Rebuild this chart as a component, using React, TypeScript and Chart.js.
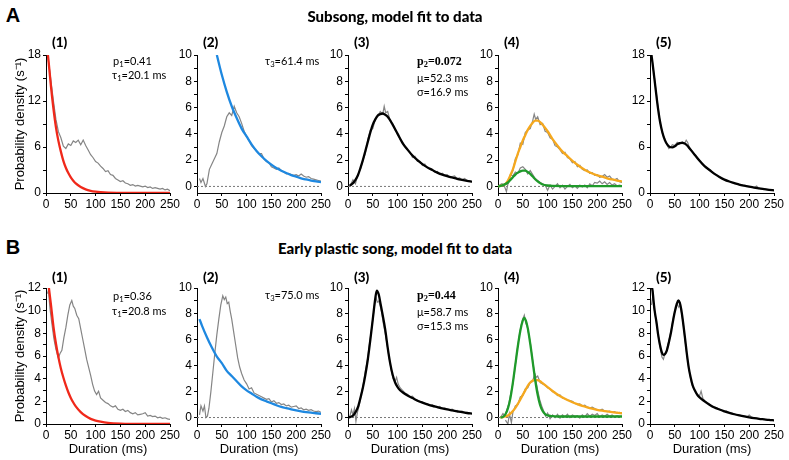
import React, { useEffect, useRef } from 'react';
import { Chart, registerables } from 'chart.js';
Chart.register(...registerables);

type Pts = [number, number][];

// ---------- tick values ----------
const X_TICKS = [0, 50, 100, 150, 200, 250];
const Y18_TICKS = [0, 3, 6, 9, 12, 15, 18];
const Y18_LABELS = [0, 6, 12, 18];
const Y10_TICKS = [0, 1, 2, 3, 4, 5, 6, 7, 8, 9, 10];
const Y10_LABELS = [0, 2, 4, 6, 8, 10];
const Y12_TICKS = [0, 1, 2, 3, 4, 5, 6, 7, 8, 9, 10, 11, 12];
const Y12_LABELS = [0, 2, 4, 6, 8, 10, 12];

// ---------- Row A: Subsong ----------
const A1_gray: Pts = [[4,17.6],[7,16.2],[10,14.6],[15,12],[20,9.6],[25,8],[30,7.2],[35,6.1],[40,5.8],[45,6.4],[50,6.2],[55,6.8],[60,6.6],[65,6.9],[70,6.3],[75,6.9],[80,6.2],[85,5.6],[90,5.0],[95,4.6],[100,4.1],[105,3.9],[110,3.5],[115,3.2],[120,2.8],[125,2.9],[130,2.4],[135,2.3],[140,1.9],[145,1.7],[150,1.5],[155,1.6],[160,1.3],[165,1.2],[170,1.0],[175,1.1],[180,0.9],[185,1.0],[190,0.9],[195,0.8],[200,0.9],[205,0.7],[210,0.8],[215,0.6],[220,0.7],[225,0.6],[230,0.5],[235,0.6],[240,0.4],[245,0.5],[250,0.3]];
const A1_fit: Pts = [[3,18.5],[5,17.3],[10,13.9],[15,11.0],[20,8.6],[25,6.8],[30,5.4],[35,4.2],[40,3.3],[45,2.6],[50,2.05],[55,1.6],[60,1.25],[70,0.77],[80,0.47],[90,0.29],[100,0.18],[110,0.11],[125,0.05],[150,0.02],[175,0],[200,0],[250,0]];

const A2_gray: Pts = [[5,0.6],[8,0.3],[12,0.6],[17,0.0],[20,0.2],[25,1.3],[30,1.7],[35,2.1],[40,2.5],[45,3.4],[50,4.1],[55,4.6],[60,5.3],[65,5.6],[70,5.4],[75,6.1],[80,5.6],[85,5.3],[90,4.8],[95,4.2],[100,3.8],[105,3.5],[110,3.1],[115,2.9],[120,2.7],[125,2.5],[130,2.5],[135,2.1],[140,1.9],[145,1.8],[150,1.5],[155,1.4],[160,1.3],[165,1.4],[170,1.2],[175,1.1],[180,0.95],[185,1.0],[190,0.9],[195,0.85],[200,0.9],[205,0.8],[210,0.95],[215,0.8],[220,0.7],[225,0.75],[230,0.6],[235,0.55],[240,0.5],[245,0.45],[250,0.4]];
const A2_fit: Pts = [[40,10],[50,8.5],[60,7.2],[70,6.1],[80,5.2],[90,4.4],[100,3.8],[110,3.2],[120,2.7],[130,2.3],[140,1.95],[150,1.66],[160,1.41],[170,1.2],[180,1.02],[190,0.86],[200,0.74],[210,0.62],[220,0.53],[230,0.45],[240,0.38],[250,0.33]];

const A3_gray: Pts = [[5,0.1],[10,0.5],[15,0.2],[20,0.9],[25,1.3],[30,2.0],[35,2.5],[40,3.6],[45,4.3],[50,4.4],[55,5.1],[60,5.3],[65,5.7],[70,5.5],[73,6.1],[76,5.6],[80,5.7],[85,5.0],[90,4.8],[95,4.3],[100,4.0],[105,3.6],[110,3.4],[115,3.0],[120,2.8],[125,2.6],[130,2.2],[135,2.3],[140,1.9],[145,1.9],[150,1.6],[155,1.7],[160,1.4],[165,1.3],[170,1.3],[175,1.1],[180,1.15],[185,0.9],[190,1.0],[195,0.85],[200,0.9],[205,0.7],[210,0.75],[215,0.8],[220,0.6],[225,0.65],[230,0.5],[235,0.6],[240,0.45],[245,0.4],[250,0.35]];
const A3_fit: Pts = [[3,0.05],[5,0.1],[10,0.25],[15,0.5],[20,0.85],[25,1.4],[30,2.0],[35,2.7],[40,3.4],[45,4.1],[50,4.7],[55,5.1],[60,5.4],[65,5.5],[70,5.55],[75,5.45],[80,5.3],[90,4.7],[100,4.0],[110,3.3],[120,2.8],[130,2.35],[140,2.0],[150,1.7],[160,1.45],[170,1.25],[180,1.05],[190,0.9],[200,0.78],[210,0.68],[220,0.58],[230,0.5],[240,0.43],[250,0.37]];

const A4_grayWide: Pts = [[3,0.1],[8,0.2],[12,0.1],[17,-0.4],[20,0.2],[25,0.8],[30,1.2],[35,2.1],[40,2.4],[45,3.3],[50,3.2],[55,4.1],[60,4.3],[65,4.4],[70,5.0],[73,5.5],[76,5.1],[80,5.3],[85,4.7],[90,4.8],[95,4.2],[100,4.1],[105,3.7],[110,3.6],[115,3.1],[120,3.0],[125,2.8],[130,2.5],[135,2.6],[140,2.2],[145,2.1],[150,1.8],[155,1.9],[160,1.5],[165,1.6],[170,1.3],[175,1.2],[180,1.25],[185,1.0],[190,1.05],[195,0.85],[200,0.9],[205,0.7],[210,0.75],[215,0.9],[220,0.7],[225,0.8],[230,0.55],[235,0.5],[240,0.6],[245,0.35],[250,0.3]];
const A4_grayNarrow: Pts = [[20,0.2],[25,0.9],[30,0.8],[35,1.1],[40,1.0],[45,1.4],[50,1.5],[55,1.3],[60,0.95],[65,1.2],[70,0.9],[75,0.6],[80,0.45],[85,0.3],[90,0.2],[95,0.1],[100,-0.3],[105,0.1],[110,-0.2],[115,0.0],[120,0.2],[125,-0.1],[130,0.1],[135,-0.2],[140,0.0],[145,0.15],[150,-0.1],[155,0.05],[160,-0.15],[165,0.1],[170,-0.05],[175,0.1],[180,-0.1],[185,0.2],[190,0.05],[195,0.3],[200,0.25],[205,0.4],[210,0.2],[215,0.35],[220,0.15],[225,0.3],[230,0.1],[235,0.2],[240,0.05],[245,0.1],[250,0.05]];
const A4_fitWide: Pts = [[0,0],[5,0.05],[10,0.1],[15,0.2],[20,0.45],[25,0.85],[30,1.3],[35,1.9],[40,2.5],[45,3.0],[50,3.5],[55,3.9],[60,4.3],[65,4.6],[70,4.85],[75,5.0],[80,5.0],[85,4.9],[90,4.7],[100,4.2],[110,3.6],[120,3.1],[130,2.65],[140,2.3],[150,1.95],[160,1.65],[170,1.38],[180,1.15],[190,0.98],[200,0.84],[210,0.74],[220,0.62],[230,0.53],[240,0.45],[250,0.38]];
const A4_fitNarrow: Pts = [[0,0],[10,0.1],[20,0.3],[25,0.5],[30,0.7],[35,0.9],[40,1.05],[45,1.15],[50,1.2],[55,1.2],[60,1.1],[65,0.95],[70,0.75],[75,0.55],[80,0.38],[85,0.25],[90,0.15],[100,0.07],[110,0.04],[130,0.03],[250,0.03]];

const A5_gray: Pts = [[3,17.5],[5,17.0],[10,14.5],[15,11.8],[20,9.3],[25,7.8],[30,7.0],[35,6.2],[38,5.8],[42,6.0],[45,6.3],[50,6.2],[55,6.6],[60,6.4],[65,6.7],[70,6.5],[73,6.9],[76,6.6],[80,5.8],[85,5.5],[90,5.0],[95,4.6],[100,4.2],[105,3.8],[110,3.5],[115,3.2],[120,3.0],[125,2.8],[130,2.5],[135,2.3],[140,2.1],[145,1.9],[150,1.75],[155,1.6],[160,1.5],[165,1.4],[170,1.3],[175,1.2],[180,1.1],[185,1.05],[190,0.95],[195,0.9],[200,0.82],[205,0.75],[210,0.7],[215,0.9],[220,0.6],[225,0.55],[230,0.5],[235,0.45],[240,0.42],[245,0.38],[250,0.35]];
const A5_fit: Pts = [[3,18],[5,17],[10,14.3],[15,11.6],[20,9.4],[25,7.9],[30,6.9],[35,6.3],[40,6.0],[45,5.95],[50,6.1],[55,6.35],[60,6.5],[65,6.55],[70,6.45],[75,6.2],[80,5.8],[90,5.0],[100,4.2],[110,3.5],[120,3.0],[130,2.5],[140,2.1],[150,1.75],[160,1.5],[170,1.3],[180,1.1],[190,0.95],[200,0.82],[210,0.7],[220,0.6],[230,0.5],[240,0.42],[250,0.35]];

// ---------- Row B: Early plastic song ----------
const B1_gray: Pts = [[3,11.5],[5,11.8],[8,10.2],[12,8.8],[16,7.5],[20,6.6],[25,5.8],[28,6.2],[32,6.5],[36,7.6],[40,8.5],[44,9.6],[48,10.5],[52,10.9],[55,10.4],[58,10.2],[62,9.6],[66,9.3],[70,8.4],[74,7.5],[78,6.6],[82,5.7],[86,5.0],[90,4.3],[94,3.5],[98,2.9],[102,2.6],[106,2.9],[110,2.3],[115,2.1],[120,1.9],[125,1.8],[130,1.6],[135,1.5],[140,1.6],[145,1.3],[150,1.2],[155,1.3],[160,1.1],[165,1.2],[170,1.0],[175,0.9],[180,1.0],[185,0.8],[190,0.85],[195,0.9],[200,1.0],[205,0.7],[210,0.75],[215,0.65],[220,0.7],[225,0.55],[230,0.6],[235,0.5],[240,0.55],[245,0.45],[250,0.4]];
const B1_fit: Pts = [[3,13],[5,12.3],[10,10.5],[15,8.6],[20,7.1],[25,5.9],[30,4.9],[35,4.1],[40,3.4],[45,2.8],[50,2.3],[55,1.9],[60,1.55],[70,1.05],[80,0.7],[90,0.45],[100,0.3],[110,0.2],[125,0.1],[150,0.03],[175,0.01],[250,0]];

const B2_gray: Pts = [[5,0.2],[8,0.9],[12,0.5],[15,0.9],[18,0.0],[21,0.1],[24,0.7],[28,2.0],[32,3.5],[36,5.0],[40,6.4],[44,7.6],[48,8.7],[52,9.4],[55,9.1],[58,9.3],[61,8.8],[64,8.9],[67,8.2],[70,7.6],[74,6.6],[78,5.6],[82,4.6],[86,3.9],[90,3.4],[95,2.9],[100,2.6],[105,2.2],[110,2.3],[115,1.9],[120,1.8],[125,1.7],[130,1.6],[135,1.5],[140,1.4],[145,1.45],[150,1.2],[155,1.3],[160,1.1],[165,1.15],[170,1.0],[175,1.05],[180,0.9],[185,0.95],[190,0.8],[195,0.85],[200,0.9],[205,0.7],[210,0.75],[215,0.6],[220,0.65],[225,0.55],[230,0.6],[235,0.5],[240,0.45],[245,0.5],[250,0.4]];
const B2_fit: Pts = [[5,7.6],[10,7.1],[20,6.2],[30,5.4],[40,4.7],[50,4.2],[60,3.6],[70,3.2],[80,2.8],[90,2.4],[100,2.1],[110,1.85],[120,1.6],[130,1.4],[140,1.25],[150,1.1],[160,0.95],[170,0.82],[180,0.72],[190,0.63],[200,0.55],[210,0.48],[220,0.42],[230,0.37],[240,0.33],[250,0.29]];

const B3_gray: Pts = [[3,0.0],[7,0.6],[10,0.2],[13,0.7],[16,-0.3],[19,0.4],[23,1.0],[27,1.9],[31,2.6],[35,3.6],[39,4.4],[43,5.6],[47,6.7],[51,7.9],[54,8.8],[57,9.2],[59,8.9],[62,9.0],[65,8.6],[68,8.1],[71,7.3],[75,6.5],[79,5.6],[83,4.6],[87,3.7],[91,3.0],[95,2.8],[98,3.1],[101,2.6],[105,2.3],[110,2.1],[115,1.9],[120,1.8],[125,1.6],[130,1.65],[135,1.4],[140,1.35],[145,1.25],[150,1.2],[155,1.1],[160,1.05],[165,0.95],[170,1.0],[175,0.85],[180,0.8],[185,0.85],[190,0.7],[195,0.75],[200,0.65],[205,0.6],[210,0.65],[215,0.5],[220,0.55],[225,0.45],[230,0.5],[235,0.4],[240,0.38],[245,0.35],[250,0.3]];
const B3_fit: Pts = [[0,0],[5,0.05],[10,0.15],[15,0.4],[20,0.8],[25,1.5],[30,2.3],[35,3.3],[40,4.5],[45,6.0],[50,7.6],[55,9.2],[58,9.8],[62,9.5],[66,8.7],[70,7.9],[75,6.8],[80,5.4],[85,4.2],[90,3.3],[95,2.7],[100,2.35],[105,2.1],[110,1.95],[120,1.7],[130,1.5],[140,1.3],[150,1.15],[160,1.02],[170,0.9],[180,0.8],[190,0.7],[200,0.62],[210,0.55],[220,0.48],[230,0.41],[240,0.35],[250,0.3]];

const B4_grayNarrow: Pts = [[5,0.0],[10,0.3],[14,0.1],[18,0.6],[22,1.1],[26,1.9],[30,2.6],[34,3.8],[38,5.0],[42,6.1],[46,7.0],[50,7.6],[53,7.9],[56,7.3],[59,7.0],[62,6.4],[65,5.8],[68,4.9],[72,3.8],[76,2.9],[80,2.1],[84,1.4],[88,0.9],[92,0.5],[96,0.1],[100,0.35],[105,-0.1],[110,0.2],[115,0.0],[120,0.25],[125,-0.05],[130,0.2],[135,0.05],[140,0.25],[145,0.0],[150,0.2],[155,0.1],[160,0.15],[165,-0.05],[170,0.2],[175,0.05],[180,0.3],[185,0.1],[190,0.25],[195,0.15],[200,0.3],[205,0.05],[210,0.2],[215,0.1],[220,0.25],[225,0.1],[230,0.2],[235,0.05],[240,0.15],[245,0.1],[250,0.1]];
const B4_grayWide: Pts = [[15,-0.2],[20,-0.5],[23,0.3],[27,-0.4],[30,0.4],[35,0.9],[40,1.0],[45,1.6],[50,1.7],[55,2.2],[60,2.3],[65,2.7],[70,2.8],[74,3.4],[77,3.1],[80,3.2],[85,2.7],[90,2.6],[95,2.5],[100,2.3],[105,2.2],[110,2.0],[115,1.95],[120,1.7],[125,1.75],[130,1.5],[135,1.45],[140,1.35],[145,1.3],[150,1.25],[155,1.1],[160,1.0],[165,1.05],[170,0.9],[175,0.95],[180,0.8],[185,0.75],[190,0.8],[195,0.7],[200,0.6],[205,0.55],[210,0.65],[215,0.5],[220,0.45],[225,0.5],[230,0.4],[235,0.45],[240,0.35],[245,0.4],[250,0.3]];
const B4_fitNarrow: Pts = [[5,0],[10,0.05],[15,0.25],[20,0.7],[25,1.5],[30,2.7],[35,4.1],[40,5.5],[45,6.7],[50,7.5],[53,7.7],[56,7.5],[60,6.9],[65,5.7],[70,4.3],[75,2.9],[80,1.75],[85,0.95],[90,0.5],[95,0.27],[100,0.16],[110,0.1],[120,0.08],[250,0.08]];
const B4_fitWide: Pts = [[5,0],[10,0.03],[15,0.08],[20,0.15],[25,0.3],[30,0.5],[35,0.75],[40,1.05],[45,1.4],[50,1.75],[55,2.1],[60,2.45],[65,2.7],[70,2.85],[75,2.9],[80,2.88],[85,2.8],[90,2.65],[100,2.35],[110,2.05],[120,1.78],[130,1.55],[140,1.35],[150,1.18],[160,1.03],[170,0.9],[180,0.79],[190,0.69],[200,0.6],[210,0.53],[220,0.47],[230,0.42],[240,0.37],[250,0.33]];

const B5_gray: Pts = [[3,10.5],[6,11.4],[9,10.0],[12,9.2],[15,8.3],[18,7.4],[21,6.6],[24,5.9],[27,5.7],[30,6.2],[33,6.3],[36,7.0],[40,7.7],[44,8.6],[48,9.6],[52,10.2],[55,10.6],[58,10.3],[61,10.5],[64,9.7],[67,8.9],[70,7.6],[74,6.2],[78,5.0],[82,4.0],[86,3.3],[90,3.0],[95,2.6],[100,2.5],[103,2.9],[107,2.2],[112,2.0],[118,1.8],[124,1.6],[130,1.5],[136,1.4],[142,1.25],[148,1.1],[154,1.15],[160,1.0],[166,0.95],[172,0.85],[178,0.8],[184,0.75],[190,0.7],[196,0.65],[200,0.8],[205,0.6],[210,0.55],[216,0.5],[222,0.45],[228,0.42],[234,0.38],[240,0.35],[245,0.33],[250,0.3]];
const B5_fit: Pts = [[3,12.2],[5,11.8],[8,10.5],[10,9.8],[13,9.0],[16,8.0],[20,7.0],[24,6.3],[27,6.1],[30,6.15],[34,6.5],[38,7.2],[42,8.0],[46,9.0],[50,9.9],[54,10.6],[57,10.9],[60,10.7],[63,10.1],[66,9.2],[70,7.8],[74,6.3],[78,5.0],[82,4.1],[86,3.4],[90,3.0],[95,2.6],[100,2.35],[110,2.0],[120,1.7],[130,1.45],[140,1.28],[150,1.12],[160,0.98],[170,0.86],[180,0.76],[190,0.67],[200,0.59],[210,0.52],[220,0.46],[230,0.41],[240,0.36],[250,0.32]];

// ---------- colours ----------
const GRAY = '#858585';
const RED = '#f0281a';
const BLUE = '#1e88e0';
const BLACK = '#000000';
const ORANGE = '#f5a81e';
const GREEN = '#1f9a2a';

const TICK_FONT = { family: "'Liberation Sans', Arial, sans-serif", size: 12 };
const TITLE_FONT = { family: "'Liberation Sans', Arial, sans-serif", size: 13 };

type Series = { data: Pts; color: string; width: number; smooth: boolean };
type PanelSpec = {
  col: number;
  row: number;
  ymin: number;
  ymax: number;
  yTicks: number[];
  yLabels: number[];
  zero: boolean;
  series: Series[];
};

const PLOT_LEFT = [46, 197, 348, 498, 650];
const PLOT_W = 124;
const ROW_TOP = [55, 288];
const ROW_H = [138, 136];
const PAD_TOP = 10;
const PAD_RIGHT = 14;
const X_H = [20, 36];

const fit = (data: Pts, color: string): Series => ({ data, color, width: 2.3, smooth: true });
const raw = (data: Pts): Series => ({ data, color: GRAY, width: 1.2, smooth: false });

const PANELS: PanelSpec[] = [
  { col: 0, row: 0, ymin: 0, ymax: 18, yTicks: Y18_TICKS, yLabels: Y18_LABELS, zero: false, series: [fit(A1_fit, RED), raw(A1_gray)] },
  { col: 1, row: 0, ymin: -0.5, ymax: 10, yTicks: Y10_TICKS, yLabels: Y10_LABELS, zero: true, series: [fit(A2_fit, BLUE), raw(A2_gray)] },
  { col: 2, row: 0, ymin: -0.5, ymax: 10, yTicks: Y10_TICKS, yLabels: Y10_LABELS, zero: true, series: [fit(A3_fit, BLACK), raw(A3_gray)] },
  { col: 3, row: 0, ymin: -0.5, ymax: 10, yTicks: Y10_TICKS, yLabels: Y10_LABELS, zero: true, series: [fit(A4_fitNarrow, GREEN), fit(A4_fitWide, ORANGE), raw(A4_grayWide), raw(A4_grayNarrow)] },
  { col: 4, row: 0, ymin: 0, ymax: 18, yTicks: Y18_TICKS, yLabels: Y18_LABELS, zero: false, series: [fit(A5_fit, BLACK), raw(A5_gray)] },
  { col: 0, row: 1, ymin: 0, ymax: 12, yTicks: Y12_TICKS, yLabels: Y12_LABELS, zero: false, series: [fit(B1_fit, RED), raw(B1_gray)] },
  { col: 1, row: 1, ymin: -0.5, ymax: 10, yTicks: Y10_TICKS, yLabels: Y10_LABELS, zero: true, series: [fit(B2_fit, BLUE), raw(B2_gray)] },
  { col: 2, row: 1, ymin: -0.5, ymax: 10, yTicks: Y10_TICKS, yLabels: Y10_LABELS, zero: true, series: [fit(B3_fit, BLACK), raw(B3_gray)] },
  { col: 3, row: 1, ymin: -0.5, ymax: 10, yTicks: Y10_TICKS, yLabels: Y10_LABELS, zero: true, series: [fit(B4_fitNarrow, GREEN), fit(B4_fitWide, ORANGE), raw(B4_grayNarrow), raw(B4_grayWide)] },
  { col: 4, row: 1, ymin: 0, ymax: 12, yTicks: Y12_TICKS, yLabels: Y12_LABELS, zero: false, series: [fit(B5_fit, BLACK), raw(B5_gray)] },
];

function Panel({ spec }: { spec: PanelSpec }) {
  const ref = useRef<HTMLCanvasElement | null>(null);
  const yW = spec.col === 0 ? 46 : 30;
  const left = PLOT_LEFT[spec.col] - yW;
  const top = ROW_TOP[spec.row] - PAD_TOP;
  const width = yW + PLOT_W + PAD_RIGHT;
  const height = PAD_TOP + ROW_H[spec.row] + X_H[spec.row];

  useEffect(() => {
    if (!ref.current) return;
    const datasets: any[] = spec.series.map((s) => ({
      data: s.data.map(([x, y]) => ({ x, y })),
      borderColor: s.color,
      borderWidth: s.width,
      pointRadius: 0,
      fill: false,
      tension: s.smooth ? 0.4 : 0,
      cubicInterpolationMode: s.smooth ? 'monotone' : 'default',
    }));
    if (spec.zero) {
      datasets.push({
        data: [{ x: 0, y: 0 }, { x: 250, y: 0 }],
        borderColor: '#777',
        borderWidth: 1,
        borderDash: [2, 2],
        pointRadius: 0,
        fill: false,
      });
    }
    const chart = new Chart(ref.current, {
      type: 'line',
      data: { datasets },
      options: {
        responsive: false,
        maintainAspectRatio: false,
        animation: false,
        devicePixelRatio: 1,
        layout: { padding: { top: PAD_TOP, right: PAD_RIGHT, left: 0, bottom: 0 } },
        plugins: { legend: { display: false }, tooltip: { enabled: false } },
        scales: {
          x: {
            type: 'linear',
            min: 0,
            max: 250,
            afterBuildTicks: (ax: any) => { ax.ticks = X_TICKS.map((v) => ({ value: v })); },
            afterFit: (ax: any) => { ax.height = X_H[spec.row]; ax.paddingLeft = 0; ax.paddingRight = 0; },
            ticks: { autoSkip: false, maxRotation: 0, padding: 1, color: '#000', font: TICK_FONT },
            grid: { drawOnChartArea: false, drawTicks: true, tickLength: 3, color: '#000' },
            border: { display: true, color: '#000', width: 1 },
            title: {
              display: spec.row === 1,
              text: 'Duration (ms)',
              color: '#000',
              font: TITLE_FONT,
              padding: { top: 0, bottom: 3 },
            },
          },
          y: {
            type: 'linear',
            min: spec.ymin,
            max: spec.ymax,
            afterBuildTicks: (ax: any) => { ax.ticks = spec.yTicks.map((v) => ({ value: v })); },
            afterFit: (ax: any) => { ax.width = yW; ax.paddingTop = 0; ax.paddingBottom = 0; },
            ticks: {
              autoSkip: false,
              padding: 2,
              color: '#000',
              font: TICK_FONT,
              callback: (v: any) => (spec.yLabels.includes(Number(v)) ? String(v) : ''),
            },
            grid: { drawOnChartArea: false, drawTicks: true, tickLength: 3, color: '#000' },
            border: { display: true, color: '#000', width: 1 },
            title: {
              display: spec.col === 0,
              text: 'Probability density (s\u207B\u00B9)',
              color: '#000',
              font: TITLE_FONT,
              padding: { top: 13, bottom: 0 },
            },
          },
        },
      } as any,
    });
    return () => chart.destroy();
  }, []);

  return (
    <canvas
      ref={ref}
      width={width}
      height={height}
      style={{ position: 'absolute', left, top, width, height }}
    />
  );
}

const GILL = "Lato, 'Open Sans', sans-serif";

function Txt({ x, y, children, size = 11, bold = false, align = 'left', family = GILL }: any) {
  const tx = align === 'center' ? '-50%' : '0';
  return (
    <div
      style={{
        position: 'absolute',
        left: x,
        top: y,
        transform: `translate(${tx}, -50%)`,
        whiteSpace: 'nowrap',
        fontFamily: family,
        fontSize: size,
        fontWeight: bold ? 900 : 400,
        color: '#000',
        lineHeight: 1,
      }}
    >
      {children}
    </div>
  );
}

const Sub = ({ children }: any) => (
  <span style={{ fontSize: '0.7em', verticalAlign: '-0.25em' }}>{children}</span>
);

const ROW_LABEL_Y = [43, 278];
const PANEL_NAMES = ['(1)', '(2)', '(3)', '(4)', '(5)'];

export default function App() {
  return (
    <div
      style={{
        position: 'absolute',
        left: 0,
        top: 0,
        width: 789,
        height: 460,
        overflow: 'hidden',
        background: '#fff',
      }}
    >
      {PANELS.map((p, i) => (
        <Panel key={i} spec={p} />
      ))}

      <Txt x={13} y={15} size={20} bold align="center" family="'Liberation Sans', Arial, sans-serif">A</Txt>
      <Txt x={13} y={247} size={20} bold align="center" family="'Liberation Sans', Arial, sans-serif">B</Txt>
      <Txt x={395} y={16} size={15} bold align="center">Subsong, model fit to data</Txt>
      <Txt x={395} y={248} size={15} bold align="center">Early plastic song, model fit to data</Txt>

      {[0, 1].map((r) =>
        PANEL_NAMES.map((n, c) => (
          <Txt key={`${r}-${c}`} x={PLOT_LEFT[c] + 6} y={ROW_LABEL_Y[r]} size={13.5} bold>
            {n}
          </Txt>
        ))
      )}

      <Txt x={113} y={62}>p<Sub>1</Sub>=0.41</Txt>
      <Txt x={112} y={76}>τ<Sub>1</Sub>=20.1 ms</Txt>
      <Txt x={265} y={62}>τ<Sub>3</Sub>=61.4 ms</Txt>
      <Txt x={417} y={62} bold size={12} family="'Liberation Serif', serif">p<Sub>2</Sub>=0.072</Txt>
      <Txt x={417} y={77}>μ=52.3 ms</Txt>
      <Txt x={417} y={91}>σ=16.9 ms</Txt>

      <Txt x={113} y={297}>p<Sub>1</Sub>=0.36</Txt>
      <Txt x={112} y={312}>τ<Sub>1</Sub>=20.8 ms</Txt>
      <Txt x={265} y={296}>τ<Sub>3</Sub>=75.0 ms</Txt>
      <Txt x={417} y={296} bold size={12} family="'Liberation Serif', serif">p<Sub>2</Sub>=0.44</Txt>
      <Txt x={417} y={311}>μ=58.7 ms</Txt>
      <Txt x={417} y={325}>σ=15.3 ms</Txt>
    </div>
  );
}
